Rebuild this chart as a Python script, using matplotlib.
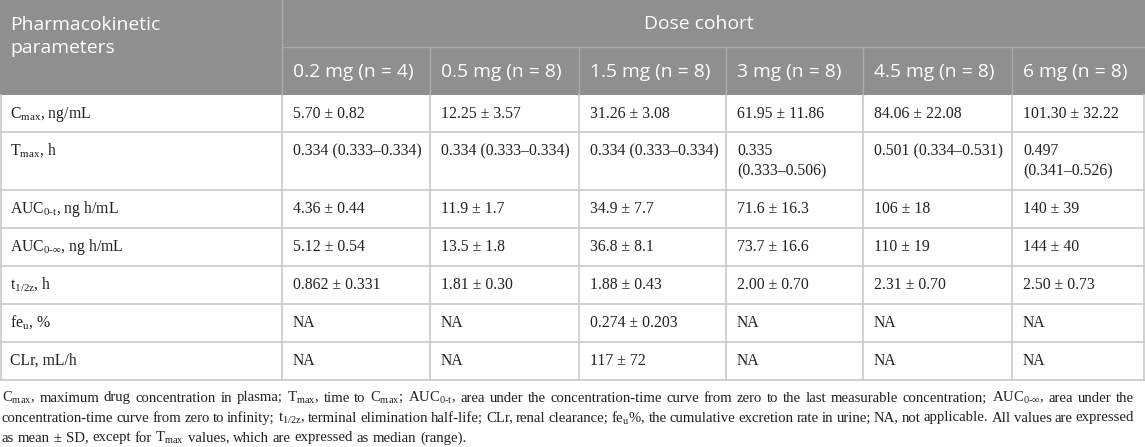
import matplotlib
matplotlib.use("Agg")
import matplotlib.pyplot as plt
from matplotlib.patches import Rectangle

plt.rcParams['mathtext.fontset'] = 'custom'
plt.rcParams['mathtext.rm'] = 'Liberation Serif'

# ---- data ----
header_param = ["Pharmacokinetic", "parameters"]
header_group = "Dose cohort"
cohorts = ["0.2 mg (n = 4)", "0.5 mg (n = 8)", "1.5 mg (n = 8)",
           "3 mg (n = 8)", "4.5 mg (n = 8)", "6 mg (n = 8)"]
params = [r"C$_\mathregular{max}$, ng/mL",
          r"T$_\mathregular{max}$, h",
          r"AUC$_\mathregular{0\text{-}t}$, ng h/mL",
          r"AUC$_\mathregular{0\text{-}∞}$, ng h/mL",
          r"t$_\mathregular{1/2z}$, h",
          r"fe$_\mathregular{u}$, %",
          r"CLr, mL/h"]
cmax = ["5.70 ± 0.82", "12.25 ± 3.57", "31.26 ± 3.08", "61.95 ± 11.86",
        "84.06 ± 22.08", "101.30 ± 32.22"]
tmax = ["0.334 (0.333–0.334)", "0.334 (0.333–0.334)", "0.334 (0.333–0.334)",
        "0.335\n(0.333–0.506)", "0.501 (0.334–0.531)", "0.497\n(0.341–0.526)"]
auc_t = ["4.36 ± 0.44", "11.9 ± 1.7", "34.9 ± 7.7", "71.6 ± 16.3",
         "106 ± 18", "140 ± 39"]
auc_inf = ["5.12 ± 0.54", "13.5 ± 1.8", "36.8 ± 8.1", "73.7 ± 16.6",
           "110 ± 19", "144 ± 40"]
t_half = ["0.862 ± 0.331", "1.81 ± 0.30", "1.88 ± 0.43", "2.00 ± 0.70",
          "2.31 ± 0.70", "2.50 ± 0.73"]
feu = ["NA", "NA", "0.274 ± 0.203", "NA", "NA", "NA"]
clr = ["NA", "NA", "117 ± 72", "NA", "NA", "NA"]
rows = [cmax, tmax, auc_t, auc_inf, t_half, feu, clr]

footnote = [
    r"C$_\mathregular{max}$, maximum drug concentration in plasma; T$_\mathregular{max}$, time to C$_\mathregular{max}$; "
    r"AUC$_\mathregular{0\text{-}t}$, area under the concentration-time curve from zero to the last measurable concentration; "
    r"AUC$_\mathregular{0\text{-}∞}$, area under the",
    r"concentration-time curve from zero to infinity; t$_\mathregular{1/2z}$, terminal elimination half-life; "
    r"CLr, renal clearance; fe$_\mathregular{u}$%, the cumulative excretion rate in urine; NA, not applicable. "
    r"All values are expressed",
    r"as mean ± SD, except for T$_\mathregular{max}$ values, which are expressed as median (range).",
]
justify = [True, True, False]

# ---- layout (pixels) ----
W, H = 1145, 447
col_x = [0, 282, 430, 579, 726, 863, 1012, 1145]
hdr1_bot = 47
hdr2_bot = 95
row_y = [95, 132, 190, 228, 266, 304, 342, 380]

HDR_BG = "#8f8f8f"
HDR_LINE = "#a9a9a9"
GRID = "#c9c9c9"
TXT = "#222222"

fig = plt.figure(figsize=(W / 100, H / 100), dpi=100)
ax = fig.add_axes([0, 0, 1, 1])
ax.set_xlim(0, W)
ax.set_ylim(H, 0)
ax.axis("off")

# header background
ax.add_patch(Rectangle((0, 0), W, hdr2_bot, facecolor=HDR_BG, edgecolor="none"))
ax.plot([col_x[1], col_x[1]], [0, hdr2_bot], color=HDR_LINE, lw=1)
ax.plot([col_x[1], W], [hdr1_bot, hdr1_bot], color=HDR_LINE, lw=1)
for x in col_x[2:-1]:
    ax.plot([x, x], [hdr1_bot, hdr2_bot], color=HDR_LINE, lw=1)

# body grid
for y in row_y[1:]:
    ax.plot([0, W], [y, y], color=GRID, lw=1.2)
for x in col_x[:-1]:
    ax.plot([max(x, 0.6), max(x, 0.6)], [row_y[0], row_y[-1]], color=GRID, lw=1.2)
ax.plot([W - 0.6, W - 0.6], [row_y[0], row_y[-1]], color=GRID, lw=1.2)

hdr_font = dict(family="Open Sans", color="white", fontsize=13.9)
ax.text(10, 25, header_param[0], ha="left", va="center", **hdr_font)
ax.text(10, 48, header_param[1], ha="left", va="center", **hdr_font)
ax.text(699, 24, header_group, ha="center", va="center", **hdr_font)
for i, c in enumerate(cohorts):
    ax.text(col_x[i + 1] + 11, 72, c, ha="left", va="center", **hdr_font)

body_font = dict(family="Liberation Serif", color=TXT, fontsize=11.3)
for r, (p, vals) in enumerate(zip(params, rows)):
    ytop = row_y[r]
    ax.text(10, ytop + 19, p, ha="left", va="center", **body_font)
    for i, v in enumerate(vals):
        for k, ln in enumerate(v.split("\n")):
            ax.text(col_x[i + 1] + 11, ytop + 19 + 20 * k, ln, ha="left",
                    va="center", **body_font)

# footnote, justified like the source
foot_font = dict(family="Liberation Serif", color=TXT, fontsize=10.6)
renderer = fig.canvas.get_renderer()
x0, x1 = 2, 1134
sp = ax.text(0, 0, "a a", **foot_font)
sa = ax.text(0, 0, "aa", **foot_font)
space_w = sp.get_window_extent(renderer).width - sa.get_window_extent(renderer).width
sp.remove(); sa.remove()
for k, (ln, just) in enumerate(zip(footnote, justify)):
    y = 398 + 20 * k
    words = ln.split(" ")
    texts = [ax.text(0, y, w_, ha="left", va="center", **foot_font) for w_ in words]
    widths = [t.get_window_extent(renderer=renderer).width for t in texts]
    if just:
        gap = (x1 - x0 - sum(widths)) / (len(words) - 1)
    else:
        gap = space_w
    x = x0
    for t, wd in zip(texts, widths):
        t.set_x(x)
        x += wd + gap

fig.savefig("out.png", dpi=100, facecolor="white")
